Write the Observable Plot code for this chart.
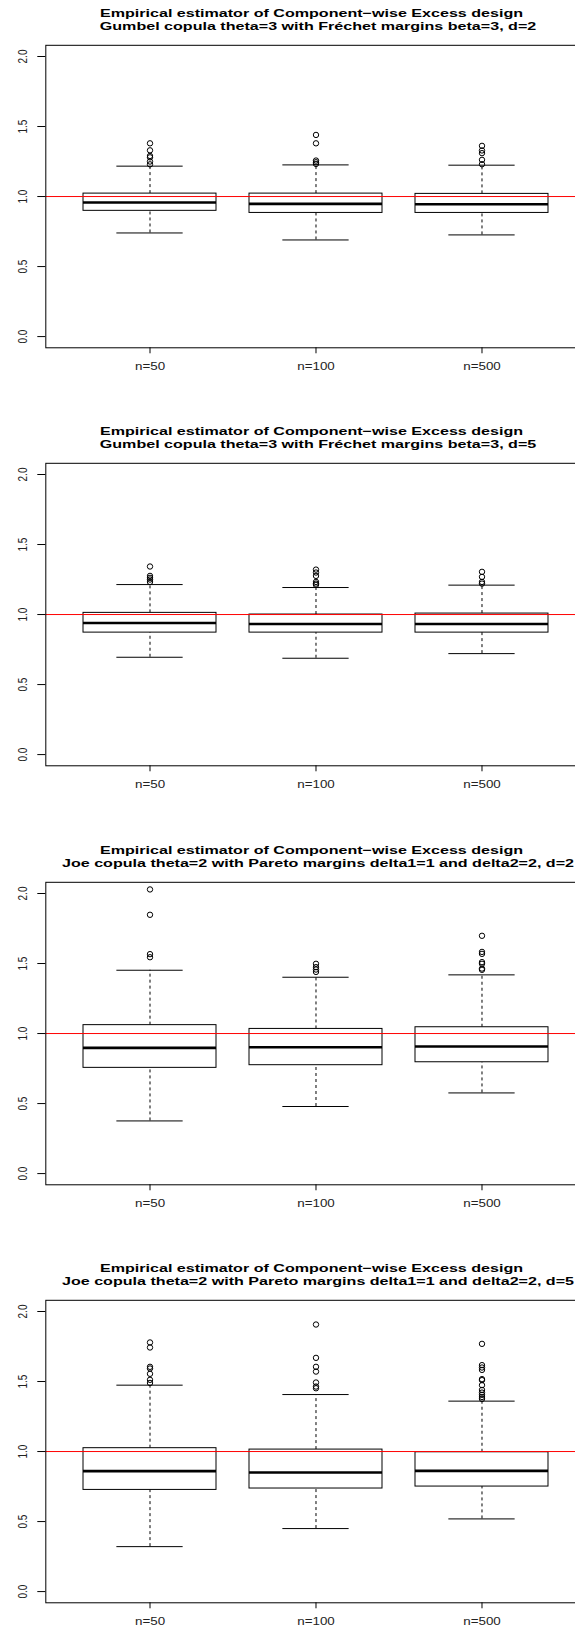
<!DOCTYPE html>
<html>
<head>
<meta charset="utf-8">
<script src="https://cdn.jsdelivr.net/npm/d3@7"></script>
<script src="https://cdn.jsdelivr.net/npm/@observablehq/plot@0.6"></script>
<style>
  html, body { margin: 0; padding: 0; background: white; overflow: hidden; }
  #panels svg { display: block; overflow: hidden; }
</style>
</head>
<body>
<div id="panels"></div>
<script>
// Sample sizes on the x axis
const sizes = ["n=50", "n=100", "n=500"];

// Panel titles
const headline = "Empirical estimator of Component\u2212wise Excess design";
const designs = [
  "Gumbel copula theta=3 with Fréchet margins beta=3, d=2",
  "Gumbel copula theta=3 with Fréchet margins beta=3, d=5",
  "Joe copula theta=2 with Pareto margins delta1=1 and delta2=2, d=2",
  "Joe copula theta=2 with Pareto margins delta1=1 and delta2=2, d=5"
];

// Box statistics, one row per panel, one value per sample size
const lowerWhisker = [[0.740, 0.690, 0.726], [0.695, 0.688, 0.721], [0.376, 0.479, 0.576], [0.321, 0.450, 0.519]];
const lowerQuartile = [[0.898, 0.883, 0.883], [0.871, 0.871, 0.871], [0.755, 0.774, 0.795], [0.726, 0.736, 0.750]];
const medians = [[0.957, 0.948, 0.945], [0.940, 0.933, 0.933], [0.898, 0.902, 0.907], [0.860, 0.850, 0.862]];
const upperQuartile = [[1.021, 1.021, 1.019], [1.012, 1.000, 1.007], [1.060, 1.033, 1.045], [1.024, 1.014, 0.995]];
const upperWhisker = [[1.217, 1.226, 1.224], [1.214, 1.193, 1.210], [1.452, 1.402, 1.419], [1.474, 1.407, 1.360]];

// Points beyond the whiskers
const outliers = [
  [[1.38, 1.33, 1.29, 1.28, 1.25, 1.23], [1.44, 1.38, 1.257, 1.245, 1.233], [1.362, 1.329, 1.31, 1.262, 1.231]],
  [[1.343, 1.276, 1.262, 1.25, 1.233], [1.321, 1.30, 1.276, 1.233, 1.221, 1.212], [1.305, 1.269, 1.233, 1.221]],
  [[2.029, 1.848, 1.567, 1.545], [1.498, 1.474, 1.457, 1.44], [1.698, 1.583, 1.569, 1.51, 1.498, 1.464, 1.455]],
  [[1.779, 1.743, 1.605, 1.593, 1.555, 1.512, 1.49], [1.907, 1.669, 1.605, 1.571, 1.493, 1.464, 1.452],
   [1.769, 1.617, 1.60, 1.583, 1.517, 1.51, 1.474, 1.44, 1.421, 1.405, 1.39, 1.376]]
];

const yTicks = [0, 0.5, 1, 1.5, 2];
const target = 1;

// Layout
const W = 575, H = 418.4;
const mLeft = 45.3, mRight = -10.7, mTop = 44.8, mBottom = H - 347.3;
const padInner = 0.2, padOuter = 0.22;
const step = (W - mRight - mLeft) / (sizes.length - padInner + 2 * padOuter);
const capInset = step * (1 - padInner) / 4;
const font = "'Liberation Sans', Arial, Helvetica, sans-serif";
const stretchTitle = 1.4, stretchAxis = 1.34;

function panel(p) {
  const boxes = sizes.map((n, i) => ({
    n,
    lo: lowerWhisker[p][i],
    q1: lowerQuartile[p][i],
    median: medians[p][i],
    q3: upperQuartile[p][i],
    hi: upperWhisker[p][i]
  }));
  const points = sizes.flatMap((n, i) => outliers[p][i].map(v => ({n, v})));

  return Plot.plot({
    width: W,
    height: H,
    marginLeft: mLeft,
    marginRight: mRight,
    marginTop: mTop,
    marginBottom: mBottom,
    style: {fontFamily: font, fontSize: "10px", color: "black", background: "white"},
    x: {type: "band", domain: sizes, paddingInner: padInner, paddingOuter: padOuter, align: 0.5, label: null},
    y: {domain: [-0.08, 2.08], label: null},
    marks: [
      Plot.axisY({ticks: yTicks, tickSize: 8, tickFormat: () => "", label: null}),
      Plot.text(yTicks, {
        y: d => d, text: d3.format(".1f"), frameAnchor: "left", dx: -23.6,
        rotate: -90, textAnchor: "middle", lineAnchor: "middle", fill: "#222"
      }),
      Plot.axisX({tickSize: 6, tickPadding: 9, label: null, fill: "#222"}),
      // dashed whiskers and caps
      Plot.ruleX(boxes, {x: "n", y1: "q3", y2: "hi", strokeDasharray: "3,3"}),
      Plot.ruleX(boxes, {x: "n", y1: "lo", y2: "q1", strokeDasharray: "3,3"}),
      Plot.tickY(boxes, {x: "n", y: "hi", insetLeft: capInset, insetRight: capInset}),
      Plot.tickY(boxes, {x: "n", y: "lo", insetLeft: capInset, insetRight: capInset}),
      // interquartile boxes with medians
      Plot.barY(boxes, {x: "n", y1: "q1", y2: "q3", fill: "white", stroke: "black", strokeWidth: 1}),
      Plot.tickY(boxes, {x: "n", y: "median", strokeWidth: 2.6}),
      Plot.dot(points, {x: "n", y: "v", r: 2.7, stroke: "black", fill: "none", strokeWidth: 1}),
      Plot.ruleY([target], {stroke: "red", strokeWidth: 1}),
      Plot.frame({stroke: "black"}),
      Plot.text([headline], {
        text: d => d, frameAnchor: "top", dx: -4.5, dy: -32, lineAnchor: "middle",
        fontWeight: "bold", fontSize: 11.5
      }),
      Plot.text([designs[p]], {
        text: d => d, frameAnchor: "top", dx: 2, dy: -18.5, lineAnchor: "middle",
        fontWeight: "bold", fontSize: 11.5
      })
    ]
  });
}

// Widen glyphs horizontally to the proportions of the printed figure
function widen(svg) {
  svg.querySelectorAll("text").forEach(t => {
    const tr = t.getAttribute("transform") || "";
    if (tr.includes("rotate")) {
      t.setAttribute("transform", tr + ` scale(1,${stretchAxis})`);
      return;
    }
    const w = t.getComputedTextLength();
    if (!(w > 0)) return;
    const bold = +getComputedStyle(t).fontWeight >= 600;
    t.setAttribute("textLength", w * (bold ? stretchTitle : stretchAxis));
    t.setAttribute("lengthAdjust", "spacingAndGlyphs");
  });
}

const root = document.getElementById("panels");
designs.forEach((_, p) => {
  const svg = panel(p);
  root.appendChild(svg);
  widen(svg);
});
</script>
</body>
</html>
